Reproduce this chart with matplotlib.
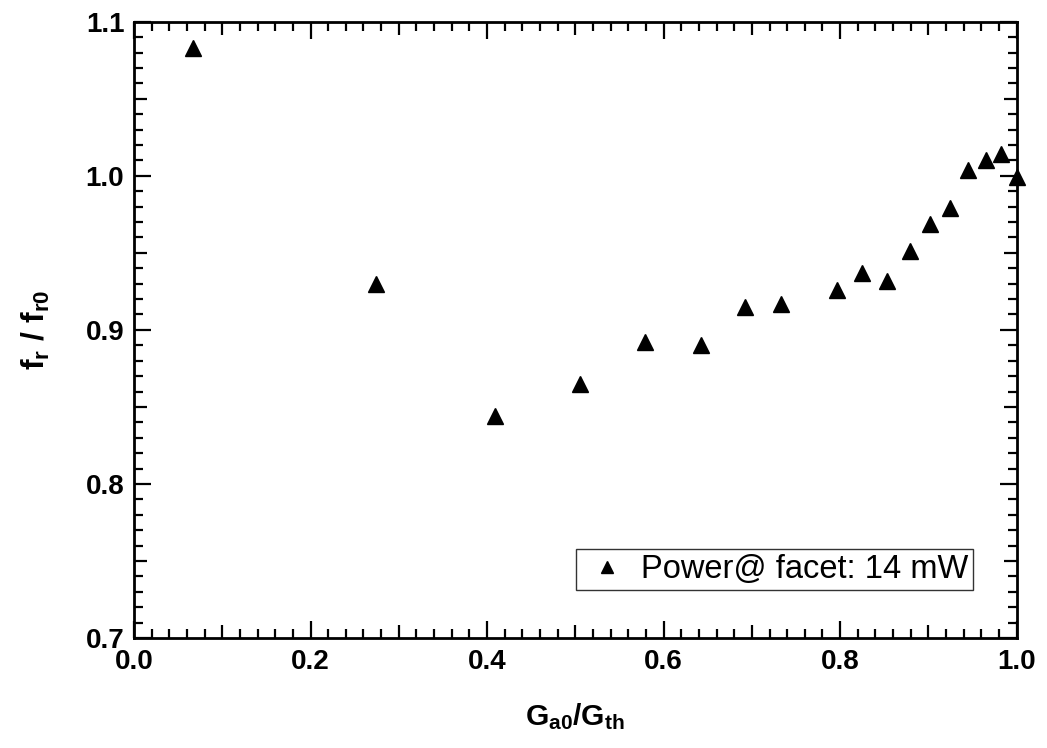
import matplotlib
matplotlib.use("Agg")
import matplotlib.pyplot as plt
import numpy as np
from matplotlib.ticker import MultipleLocator, FuncFormatter

plt.rcParams['font.family'] = ['Liberation Sans', 'DejaVu Sans']
plt.rcParams['mathtext.fontset'] = 'custom'
plt.rcParams['mathtext.rm'] = 'Liberation Sans'
plt.rcParams['mathtext.bf'] = 'Liberation Sans:bold'
plt.rcParams['mathtext.default'] = 'bf'

# data
gain_ratio = [0.067, 0.274, 0.409, 0.505, 0.579, 0.642, 0.692, 0.733,
              0.796, 0.825, 0.853, 0.879, 0.902, 0.925, 0.945, 0.965,
              0.982, 1.000]
freq_ratio = [1.083, 0.930, 0.844, 0.865, 0.892, 0.890, 0.915, 0.917,
              0.926, 0.937, 0.932, 0.951, 0.969, 0.979, 1.004, 1.010,
              1.014, 0.999]
series_label = "Power@ facet: 14 mW"
x_label = "G$_{a0}$/G$_{th}$"
y_label = "f$_{r}$ / f$_{r0}$"

fig = plt.figure(figsize=(10.47, 7.48), dpi=100)
ax = fig.add_axes([0.128, 0.147, 0.843, 0.824])

ax.plot(gain_ratio, freq_ratio, linestyle='none', marker='^', color='black',
        markersize=11.5, clip_on=False, label=series_label, zorder=5)

ax.set_xlim(0.0, 1.0)
ax.set_ylim(0.7, 1.1)

ax.xaxis.set_major_locator(MultipleLocator(0.1))
ax.xaxis.set_minor_locator(MultipleLocator(0.02))
ax.yaxis.set_major_locator(MultipleLocator(0.05))
ax.yaxis.set_minor_locator(MultipleLocator(0.01))

def xfmt(v, pos):
    k = int(round(v / 0.1))
    return f"{v:.1f}" if k % 2 == 0 else ""

def yfmt(v, pos):
    k = int(round(v / 0.05))
    return f"{v:.1f}" if k % 2 == 0 else ""

ax.xaxis.set_major_formatter(FuncFormatter(xfmt))
ax.yaxis.set_major_formatter(FuncFormatter(yfmt))

ax.tick_params(which='both', direction='in', top=True, right=True, width=1.6)
ax.tick_params(which='major', length=12.5)
ax.tick_params(which='minor', length=6.5)
ax.tick_params(axis='x', which='major', pad=8, labelsize=20)
ax.tick_params(axis='y', which='major', pad=7, labelsize=20)

for lab in ax.get_xticklabels() + ax.get_yticklabels():
    lab.set_fontweight('bold')

fig.canvas.draw()
for axis, step in ((ax.xaxis, 0.1), (ax.yaxis, 0.05)):
    locs = axis.get_majorticklocs()
    for loc, tick in zip(locs, axis.get_major_ticks()):
        k = int(round(loc / step))
        if k % 2 == 1:
            tick.tick1line.set_markersize(9.5)
            tick.tick2line.set_markersize(9.5)

for sp in ax.spines.values():
    sp.set_linewidth(2.0)

ax.set_xlabel(x_label, fontsize=21.5, fontweight='bold', labelpad=19)
ax.set_ylabel(y_label, fontsize=23, fontweight='bold', labelpad=24)

leg = ax.legend(loc='lower right', bbox_to_anchor=(0.951, 0.078),
                fontsize=23.5, frameon=True, fancybox=False, edgecolor='black',
                handletextpad=0.25, borderpad=0.15, markerscale=0.72,
                handlelength=1.6, borderaxespad=0)
leg.get_frame().set_linewidth(1.0)

fig.savefig("out.png", dpi=100)
